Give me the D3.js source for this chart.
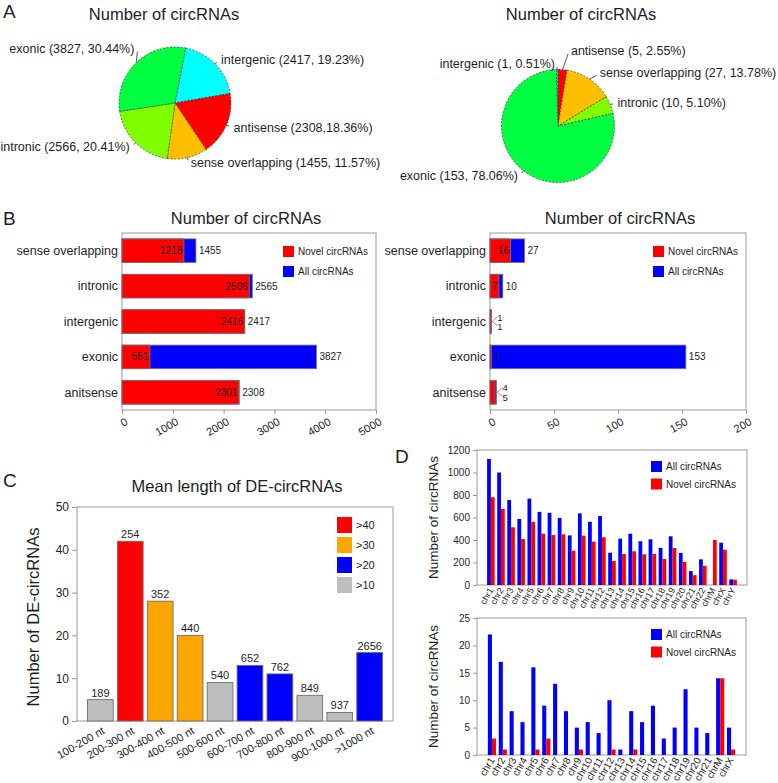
<!DOCTYPE html>
<html><head><meta charset="utf-8">
<script src="https://cdn.jsdelivr.net/npm/d3@7"></script>
<style>
body{margin:0;background:#fff}
text{font-family:"Liberation Sans",Arial,sans-serif;fill:#1e1e1e}
</style>
</head><body>
<svg id="c" width="778" height="783"></svg>
<script>
// ---------- DATA ----------
const pieCats = ["intergenic","antisense","sense overlapping","intronic","exonic"];
const pieColors = ["#00FFFF","#FF0000","#FFBF00","#80FF00","#00FF40"];
const pieAllValues = [2417, 2308, 1455, 2566, 3827];
const pieAllLabels = ["intergenic (2417, 19.23%)","antisense (2308,18.36%)","sense overlapping (1455, 11.57%)","intronic (2566, 20.41%)","exonic (3827, 30.44%)"];
const pieDEValues = [1, 5, 27, 10, 153];
const pieDELabels = ["intergenic (1, 0.51%)","antisense (5, 2.55%)","sense overlapping (27, 13.78%)","intronic (10, 5.10%)","exonic (153, 78.06%)"];

const barCats = ["sense overlapping","intronic","intergenic","exonic","anitsense"];
const novelAll = [1218, 2506, 2416, 551, 2301];
const totalAll = [1455, 2565, 2417, 3827, 2308];
const novelDE = [16, 7, 1, 1, 4];
const totalDE = [27, 10, 1, 153, 5];
const bTicksAll = [0,1000,2000,3000,4000,5000];
const bTicksDE = [0,50,100,150,200];

const lenCats = ["100-200 nt","200-300 nt","300-400 nt","400-500 nt","500-600 nt","600-700 nt","700-800 nt","800-900 nt","900-1000 nt",">1000 nt"];
const lenCounts = [5, 42, 28, 20, 9, 13, 11, 6, 2, 16];
const lenMeans = [189, 254, 352, 440, 540, 652, 762, 849, 937, 2656];
const lenClass = [">10",">40",">30",">30",">10",">20",">20",">10",">10",">20"];
const lenLegend = [">40",">30",">20",">10"];
const lenTicks = [0,10,20,30,40,50];

const chrAllCats = ["chr1","chr2","chr3","chr4","chr5","chr6","chr7","chr8","chr9","chr10","chr11","chr12","chr13","chr14","chr15","chr16","chr17","chr18","chr19","chr20","chr21","chr22","chrM","chrX","chrY"];
const chrAllTotal = [1120, 1000, 755, 587, 768, 650, 642, 596, 441, 637, 562, 613, 287, 412, 456, 389, 406, 330, 433, 285, 124, 228, 0, 376, 50];
const chrAllNovel = [780, 676, 513, 409, 562, 456, 444, 450, 305, 439, 386, 424, 213, 276, 300, 273, 276, 231, 329, 205, 87, 170, 400, 314, 47];
const chrAllTicks = [0,200,400,600,800,1000,1200];

const chrDECats = ["chr1","chr2","chr3","chr4","chr5","chr6","chr7","chr8","chr9","chr10","chr11","chr12","chr13","chr14","chr15","chr16","chr17","chr18","chr19","chr20","chr21","chrM","chrX"];
const chrDETotal = [22, 17, 8, 6, 16, 9, 13, 8, 5, 6, 4, 10, 1, 8, 6, 9, 3, 5, 12, 5, 4, 14, 5];
const chrDENovel = [3, 1, 0, 0, 1, 3, 0, 0, 1, 0, 0, 1, 0, 1, 0, 0, 0, 0, 0, 0, 0, 14, 1];
const chrDETicks = [0,5,10,15,20,25];

// ---------- STYLE ----------
const RED = "#FF0000", BLUE = "#0000FF", ORANGE = "#FFA500", GRAY = "#BEBEBE";
const classColor = {">40":RED, ">30":ORANGE, ">20":BLUE, ">10":GRAY};
const BOX = "#9a9a9a";
const svg = d3.select("#c");

function txt(x,y,s,size,anchor){
  return svg.append("text").attr("x",x).attr("y",y).attr("font-size",size).attr("text-anchor",anchor||"start").text(s);
}

// panel letters
txt(3,18,"A",19); txt(3,225,"B",19); txt(3,487,"C",19); txt(395,463,"D",19);

// ---------- PANEL A ----------
function drawPie(cx, cy, r, startDeg, values, labels, nudges, title, titleX){
  txt(titleX, 20, title, 16.5, "middle");
  const a0 = startDeg*Math.PI/180;
  const arcs = d3.pie().sort(null).startAngle(a0).endAngle(a0+2*Math.PI)(values);
  const arc = d3.arc().innerRadius(0).outerRadius(r);
  const g = svg.append("g").attr("transform",`translate(${cx},${cy})`);
  g.selectAll("path").data(arcs).join("path").attr("d",arc)
    .attr("fill",(d,i)=>pieColors[i]).attr("stroke","#333").attr("stroke-width",0.7).attr("stroke-dasharray","2,1.5");
  arcs.forEach((d,i)=>{
    const m = (d.startAngle+d.endAngle)/2, sx = Math.sin(m), sy = -Math.cos(m);
    const anchor = sx<0 ? "end" : "start";
    const nd = nudges[i] || [0,0];
    const lx = 1.1*r*sx + (sx<0?-2:2) + nd[0], ly = 1.1*r*sy + nd[1];
    let ex = 1.05*r*sx, ey = 1.05*r*sy;
    if (nudges[i]) { ex = lx + (sx<0?3:-3); ey = ly + 3; }
    g.append("line").attr("x1",r*sx).attr("y1",r*sy).attr("x2",ex).attr("y2",ey).attr("stroke","#333").attr("stroke-width",0.8);
    g.append("text").attr("x",lx).attr("y",ly).attr("dy","0.35em").attr("font-size",12.5).attr("text-anchor",anchor).text(labels[i]);
  });
}
drawPie(175, 103, 56, 11, pieAllValues, pieAllLabels, {4:[4,-10]}, "Number of circRNAs", 164);
drawPie(558, 126, 56.5, -1.84, pieDEValues, pieDELabels, {1:[6,-13], 2:[5,-2]}, "Number of circRNAs", 581);

// ---------- PANEL B ----------
function drawHBar(o){
  const x = d3.scaleLinear().domain([0,o.max]).range([o.x0,o.x1]);
  const y = d3.scaleBand().domain(barCats).range([o.y0,o.y1]).paddingInner(1/3).paddingOuter(1/6);
  txt(o.titleX, 224, "Number of circRNAs", 16.5, "middle");
  svg.append("rect").attr("x",o.x0).attr("y",o.y0).attr("width",o.x1-o.x0).attr("height",o.y1-o.y0)
    .attr("fill","none").attr("stroke",BOX);
  const g = svg.append("g");
  barCats.forEach((c,i)=>{
    const yb = y(c), h = y.bandwidth(), yc = yb+h/2;
    g.append("rect").attr("x",x(0)).attr("y",yb).attr("width",x(o.total[i])-x(0)).attr("height",h)
      .attr("fill",BLUE).attr("stroke","#777").attr("stroke-width",0.8);
    g.append("rect").attr("x",x(0)).attr("y",yb).attr("width",x(o.novel[i])-x(0)).attr("height",h)
      .attr("fill",RED).attr("stroke","#777").attr("stroke-width",0.8);
    txt(o.x0-4, yc, c, 12.5, "end").attr("dy","0.35em");
    const xt = x(o.total[i]), xn = x(o.novel[i]);
    if (xt - x(0) < 10) {
      g.append("path").attr("d",`M${xt+6},${yc-5}L${xt+1},${yc}L${xt+6},${yc+4}`).attr("fill","none").attr("stroke","#555").attr("stroke-width",0.7);
      txt(xt+6, yc-1, o.novel[i], 9.5);
      txt(xt+6, yc+8.5, o.total[i], 9.5);
    } else {
      const tw = 5.6*String(o.novel[i]).length + 2;
      if (xn - x(0) > tw) txt(xn-1.5, yc, o.novel[i], 10, "end").attr("dy","0.35em");
      else txt(xn+3, yc, o.novel[i], 10, "start").attr("dy","0.35em");
      txt(xt+3, yc, o.total[i], 10, "start").attr("dy","0.35em");
    }
  });
  // axis
  const ax = svg.append("g").attr("transform",`translate(0,${o.y1})`)
    .call(d3.axisBottom(x).tickValues(o.ticks).tickSize(4).tickFormat(d3.format("d")));
  ax.select(".domain").remove();
  ax.selectAll(".tick line").attr("stroke",BOX);
  ax.selectAll(".tick text").attr("font-size",11).attr("fill","#222").attr("text-anchor","end")
    .attr("x",0).attr("y",0).attr("dy",0)
    .attr("transform","translate(6,14) rotate(-30)");
  // legend
  const lx = o.x1 - 93;
  [["Novel circRNAs",RED],["All circRNAs",BLUE]].forEach((l,k)=>{
    svg.append("rect").attr("x",lx).attr("y",246+20*k).attr("width",11).attr("height",11).attr("fill",l[1]);
    txt(lx+15, 255+20*k, l[0], 10);
  });
}
drawHBar({x0:122, x1:376, y0:233, y1:410, max:5000, ticks:bTicksAll, novel:novelAll, total:totalAll, titleX:246});
drawHBar({x0:490, x1:746, y0:233, y1:410, max:200, ticks:bTicksDE, novel:novelDE, total:totalDE, titleX:620});

// ---------- PANEL C ----------
(function(){
  const x0=77, x1=393, y0=507, y1=721;
  txt(237, 492, "Mean length of DE-circRNAs", 16.5, "middle");
  const x = d3.scaleBand().domain(lenCats).range([x0,x1]).paddingInner(0.14).paddingOuter(0.35);
  const y = d3.scaleLinear().domain([0,50]).range([y1,y0]);
  svg.append("rect").attr("x",x0).attr("y",y0).attr("width",x1-x0).attr("height",y1-y0).attr("fill","none").attr("stroke",BOX);
  svg.append("g").selectAll("rect").data(lenCats).join("rect")
    .attr("x",d=>x(d)).attr("width",x.bandwidth())
    .attr("y",(d,i)=>y(lenCounts[i])).attr("height",(d,i)=>y(0)-y(lenCounts[i]))
    .attr("fill",(d,i)=>classColor[lenClass[i]]).attr("stroke","#6e6e6e").attr("stroke-width",0.9);
  lenCats.forEach((c,i)=>{
    txt(x(c)+x.bandwidth()/2, y(lenCounts[i])-3, lenMeans[i], 11, "middle");
    svg.append("text").attr("font-size",11).attr("text-anchor","end")
      .attr("transform",`translate(${x(c)+x.bandwidth()/2+5},${y1+12}) rotate(-30)`).text(c);
  });
  const ay = svg.append("g").attr("transform",`translate(${x0},0)`).call(d3.axisLeft(y).tickValues(lenTicks).tickSize(5));
  ay.select(".domain").remove();
  ay.selectAll(".tick line").attr("stroke",BOX);
  ay.selectAll(".tick text").attr("font-size",12).attr("fill","#222").attr("x",-8);
  svg.append("text").attr("font-size",16.5).attr("text-anchor","middle")
    .attr("transform","translate(39,617) rotate(-90)").text("Number of DE-circRNAs");
  lenLegend.forEach((l,k)=>{
    svg.append("rect").attr("x",337).attr("y",517+20*k).attr("width",15).attr("height",16).attr("fill",classColor[l]);
    txt(356, 529+20*k, l, 11);
  });
})();

// ---------- PANEL D ----------
function drawGrouped(o){
  const x = d3.scaleBand().domain(o.cats).range([o.x0,o.x1]).paddingInner(0.25).paddingOuter(1);
  const y = d3.scaleLinear().domain([0,o.max]).range([o.y1,o.y0]);
  const bw = x.bandwidth()/2;
  svg.append("rect").attr("x",o.x0).attr("y",o.y0).attr("width",o.x1-o.x0).attr("height",o.y1-o.y0).attr("fill","none").attr("stroke",BOX);
  const g = svg.append("g");
  g.selectAll("rect.a").data(o.cats).join("rect").attr("class","a")
    .attr("x",d=>x(d)).attr("width",bw)
    .attr("y",(d,i)=>y(o.total[i])).attr("height",(d,i)=>y(0)-y(o.total[i])).attr("fill",BLUE);
  g.selectAll("rect.n").data(o.cats).join("rect").attr("class","n")
    .attr("x",d=>x(d)+bw).attr("width",bw)
    .attr("y",(d,i)=>y(o.novel[i])).attr("height",(d,i)=>y(0)-y(o.novel[i])).attr("fill",RED);
  o.cats.forEach(c=>{
    svg.append("text").attr("font-size",o.lab).attr("text-anchor","end")
      .attr("transform",`translate(${x(c)+x.bandwidth()/2+3},${o.y1+5}) rotate(-60)`).text(c);
  });
  const ay = svg.append("g").attr("transform",`translate(${o.x0},0)`)
    .call(d3.axisLeft(y).tickValues(o.ticks).tickSize(4).tickFormat(d3.format("d")));
  ay.select(".domain").remove();
  ay.selectAll(".tick line").attr("stroke",BOX);
  ay.selectAll(".tick text").attr("font-size",10).attr("fill","#222").attr("x",-7);
  svg.append("text").attr("font-size",13.5).attr("text-anchor","middle")
    .attr("transform",`translate(438,${(o.y0+o.y1)/2}) rotate(-90)`).text("Number of circRNAs");
  [["All circRNAs",BLUE],["Novel circRNAs",RED]].forEach((l,k)=>{
    svg.append("rect").attr("x",651).attr("y",o.y0+11+17.5*k).attr("width",11).attr("height",11).attr("fill",l[1]);
    txt(666, o.y0+20+17.5*k, l[0], 10);
  });
}
drawGrouped({x0:477, x1:747, y0:450, y1:585, max:1200, ticks:chrAllTicks, cats:chrAllCats, total:chrAllTotal, novel:chrAllNovel, lab:9});
drawGrouped({x0:477, x1:746, y0:618, y1:755, max:25, ticks:chrDETicks, cats:chrDECats, total:chrDETotal, novel:chrDENovel, lab:10});
</script>
</body></html>
